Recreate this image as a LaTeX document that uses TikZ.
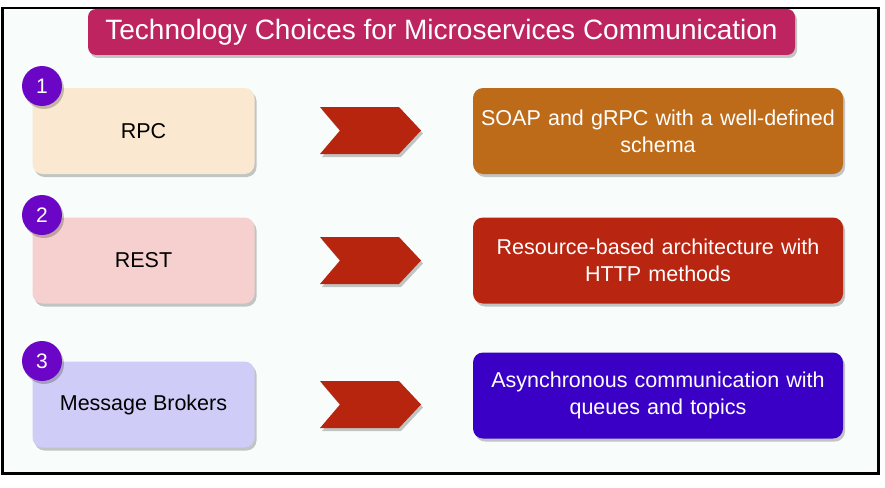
\documentclass[tikz,border=0pt]{standalone}
\usepackage{fontspec}
\setmainfont{Liberation Sans}
\usetikzlibrary{shadows}
\definecolor{bgmint}{RGB}{248,252,251}
\definecolor{titlecol}{RGB}{190,37,96}
\definecolor{badgecol}{RGB}{108,6,198}
\definecolor{leftA}{RGB}{250,232,209}
\definecolor{leftB}{RGB}{246,207,207}
\definecolor{leftC}{RGB}{208,204,248}
\definecolor{rightA}{RGB}{189,107,25}
\definecolor{rightB}{RGB}{184,37,16}
\definecolor{rightC}{RGB}{59,0,198}
\definecolor{chevcol}{RGB}{184,37,15}
\tikzset{
  softshadow/.style={drop shadow={shadow xshift=2pt, shadow yshift=-3pt, opacity=0.22, fill=black}},
  titlebox/.style={fill=titlecol, rounded corners=8pt, minimum width=707pt, minimum height=46pt,
    inner sep=0pt, text=white, font=\fontsize{28}{32}\selectfont, softshadow},
  leftbox/.style={rounded corners=10pt, minimum width=222pt, minimum height=86pt, inner sep=0pt,
    text=black, font=\fontsize{21.5}{26}\selectfont, softshadow},
  rightbox/.style={rounded corners=10pt, minimum width=370pt, minimum height=86pt, inner sep=0pt,
    text=white, text width=368pt, align=center, font=\fontsize{21.5}{27}\selectfont, softshadow},
  badge/.style={circle, fill=badgecol, minimum size=40pt, inner sep=0pt, text=white,
    font=\fontsize{21}{24}\selectfont, softshadow},
  chevron/.style={fill=chevcol, softshadow}
}
\newcommand{\chev}[2]{%
  \fill[chevron] (320,#1-23.5) coordinate (#2a) -- (399,#1-23.5) -- (421,#1) coordinate (#2tip)
    -- (399,#1+23.5) -- (320,#1+23.5) -- (340,#1) -- cycle;}
\begin{document}
\begin{tikzpicture}[x=1pt,y=-1pt]
\useasboundingbox (0,0) rectangle (885,487);
\fill[white] (0,0) rectangle (885,487);
\draw[line width=2.5pt, fill=bgmint] (2.5,8) rectangle (878.5,473.5);

\node[titlebox] (title) at (441.5,32) {Technology Choices for Microservices Communication};

\node[leftbox, fill=leftA] (rpc) at (143.5,131) {RPC};
\node[leftbox, fill=leftB] (rest) at (143.5,260.5) {REST};
\node[leftbox, fill=leftC] (mb) at (143.5,404.5) {Message Brokers};

\node[badge] (b1) at (42,86) {1};
\node[badge] (b2) at (42,215) {2};
\node[badge] (b3) at (42,361) {3};

\chev{130.5}{c1}
\chev{260.5}{c2}
\chev{404.5}{c3}

\node[rightbox, fill=rightA] (soap) at (658,131) {SOAP and gRPC with a well-defined\\schema};
\node[rightbox, fill=rightB] (res) at (658,260.5) {Resource-based architecture with\\HTTP methods};
\node[rightbox, fill=rightC] (async) at (658,395.5) {Asynchronous communication with\\queues and topics};
\end{tikzpicture}
\end{document}
